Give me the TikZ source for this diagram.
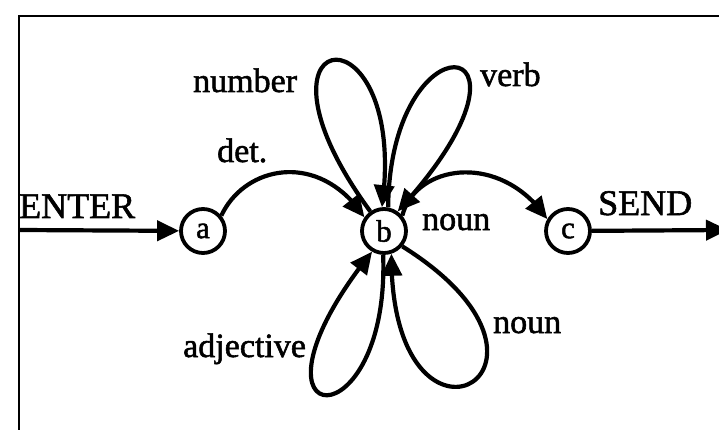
\documentclass[tikz,border=0pt]{standalone}
\usepackage{fontspec}
\setmainfont{Liberation Serif}
\newfontfamily\heavyserif{Liberation Serif}[FakeBold=1.6]
\usetikzlibrary{arrows.meta,bending}
\begin{document}
\begin{tikzpicture}[x=1pt,y=-1pt,
  state/.style={circle, draw, line width=3.8pt, minimum size=44pt, inner sep=0pt, font=\heavyserif\fontsize{31}{31}\selectfont},
  edge/.style={line width=4.2pt, -{Triangle[length=22pt,width=20pt]}},
  lbl/.style={font=\heavyserif\fontsize{34}{40}\selectfont, inner sep=0pt, anchor=base west},
  biglbl/.style={font=\heavyserif\fontsize{36}{40}\selectfont, inner sep=0pt, anchor=base west},
  frame/.style={line width=2pt}]
\useasboundingbox (0,0) rectangle (719,430);
\draw[frame] (19,430) -- (19,16) -- (719,16);
\node[state] (a) at (203,231) {a};
\node[state] (b) at (384,231) {b};
\node[state] (c) at (568,231) {c};
\coordinate (ein) at (19,230);
\coordinate (sout) at (728,230);
\draw[edge] (ein) -- (a);
\draw[edge] (c) -- (sout);
\draw[edge] (a.40) .. controls (245,165) and (320,150) .. (b.145);
\draw[edge] (b.125) .. controls (230,20) and (410,0) .. (b.95);
\draw[edge] (b.80) .. controls (390,10) and (565,30) .. (b.55);
\draw[edge] (b.40) .. controls (415,165) and (500,150) .. (c.150);
\draw[edge] (b.268) .. controls (390,450) and (225,435) .. (b.240);
\draw[edge] (b.320) .. controls (600,370) and (390,485) .. (b.288);
\node[biglbl] (tenter) at (19,218) {ENTER};
\node[biglbl] (tsend) at (598,215) {SEND};
\node[lbl] (tdet) at (217,162) {det.};
\node[lbl] (tnumber) at (193,92) {number};
\node[lbl] (tverb) at (480,86) {verb};
\node[lbl] (tnoun1) at (422,230) {noun};
\node[lbl] (tadj) at (183,357) {adjective};
\node[lbl] (tnoun2) at (493,333) {noun};
\end{tikzpicture}
\end{document}
